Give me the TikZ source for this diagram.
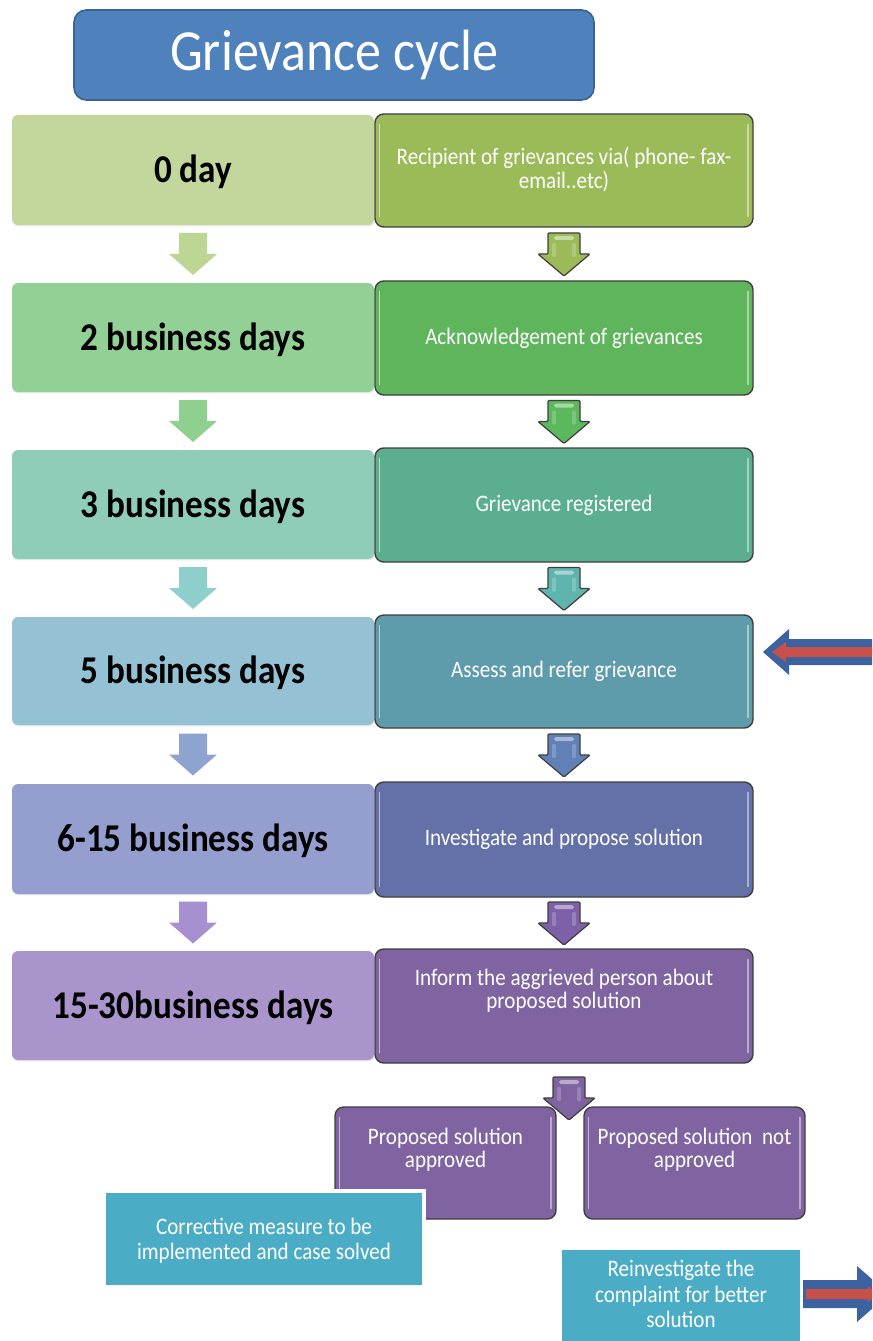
\documentclass[tikz,border=0pt]{standalone}
\usepackage{fontspec}
\setmainfont{Carlito}
\usetikzlibrary{fit,shadows,calc}
\definecolor{titleblue}{HTML}{4F81BD}
\definecolor{titleedge}{HTML}{3A6293}
\definecolor{aL}{HTML}{C3D69B}\definecolor{aR}{HTML}{9BBB59}
\definecolor{bL}{HTML}{93D095}\definecolor{bR}{HTML}{5FB55C}
\definecolor{cL}{HTML}{90CDB8}\definecolor{cR}{HTML}{5BAF8E}
\definecolor{dL}{HTML}{94C1D3}\definecolor{dR}{HTML}{5E9CAB}
\definecolor{eL}{HTML}{949ECF}\definecolor{eR}{HTML}{6470A8}
\definecolor{fL}{HTML}{A994CB}\definecolor{fR}{HTML}{8064A2}
\definecolor{la1}{HTML}{BED693}\definecolor{la2}{HTML}{8FD08F}
\definecolor{la3}{HTML}{8ECFCB}\definecolor{la4}{HTML}{8FA3D1}
\definecolor{la5}{HTML}{A690CF}
\definecolor{ra1}{HTML}{9BBB59}\definecolor{ra2}{HTML}{5CB85C}
\definecolor{ra3}{HTML}{5FB5AE}\definecolor{ra4}{HTML}{6080B6}
\definecolor{ra5}{HTML}{7D60A8}
\definecolor{cyanbox}{HTML}{4BACC6}
\definecolor{edgegray}{HTML}{3F3F3F}
\definecolor{arrblue}{HTML}{3D62A0}
\definecolor{arrred}{HTML}{C8504B}
\newcommand{\tall}[1]{\scalebox{1}[1.12]{#1}}
\newcommand{\lines}[1]{\tall{\begin{tabular}{@{}c@{}}#1\end{tabular}}}
\tikzset{
  glossy/.style={path picture={
    \draw[white,opacity=0.55,line width=1pt,line cap=round]
      ([xshift=2.6pt,yshift=-6pt]path picture bounding box.north west) --
      ([xshift=2.6pt,yshift=6pt]path picture bounding box.south west);
    \draw[white,opacity=0.45,line width=1pt,line cap=round]
      ([xshift=-2.8pt,yshift=-6pt]path picture bounding box.north east) --
      ([xshift=-2.8pt,yshift=6pt]path picture bounding box.south east);
  }},
  lbox/.style={rounded corners=3.5pt,inner sep=0pt,
    drop shadow={opacity=0.18,shadow xshift=0.4pt,shadow yshift=-0.8pt}},
  ltext/.style={font=\fontsize{20}{24}\selectfont\bfseries,text=black,inner sep=0pt},
  rbox/.style={rounded corners=5pt,inner sep=0pt,draw=edgegray,line width=0.8pt,glossy},
  rtext/.style={font=\fontsize{12}{12}\selectfont,text=white,inner sep=0pt},
  ctext/.style={font=\fontsize{12}{13}\selectfont,text=white,inner sep=0pt},
  cbox/.style={fill=cyanbox,draw=white,line width=2.2pt,inner sep=0pt,
    drop shadow={opacity=0.22,shadow xshift=1.2pt,shadow yshift=-1.2pt}},
  larr/.pic={\path[pic actions] (-14,-21) -- (14,-21) -- (14,0) -- (24,0) -- (0,21) -- (-24,0) -- (-14,0) -- cycle;},
  rarr/.pic={\path[pic actions] (-16,-21) -- (16,-21) -- (16,0) -- (26,0) -- (0,22) -- (-26,0) -- (-16,0) -- cycle;
    \fill[white,opacity=0.45,rounded corners=1pt] (-10,-18) rectangle (10,-14);
    \fill[white,opacity=0.2] (-12,-11) rectangle (-8,3);
    \fill[white,opacity=0.2] (8,-11) rectangle (12,3);},
  rarrstyle/.style={draw=edgegray,line width=0.7pt,rounded corners=0.6pt}
}
\begin{document}
\begin{tikzpicture}[x=0.02cm,y=-0.02cm]
\useasboundingbox (0,0) rectangle (872,1341);
\clip (0,0) rectangle (872,1341);

% title
\node[fit={(74,10) (594,100)},inner sep=0pt,rounded corners=7pt,fill=titleblue,
  draw=titleedge,line width=0.9pt] (title) {};
\node[text=white,font=\fontsize{29.6}{34}\selectfont,inner sep=0pt] (titletext) at (title.center) {\tall{Grievance cycle}};

% left boxes
\node[lbox,fill=aL,fit={(12,115) (374,225)}] (L1) {};
\node[lbox,fill=bL,fit={(12,283) (374,392)}] (L2) {};
\node[lbox,fill=cL,fit={(12,450) (374,559)}] (L3) {};
\node[lbox,fill=dL,fit={(12,617) (374,725)}] (L4) {};
\node[lbox,fill=eL,fit={(12,784) (374,894)}] (L5) {};
\node[lbox,fill=fL,fit={(12,951) (374,1060)}] (L6) {};
\node[ltext] (l1) at ($(L1.center)+(0,2)$) {\tall{0 day}};
\node[ltext] (l2) at ($(L2.center)+(0,2)$) {\tall{2 business days}};
\node[ltext] (l3) at ($(L3.center)+(0,2)$) {\tall{3 business days}};
\node[ltext] (l4) at ($(L4.center)+(0,2)$) {\tall{5 business days}};
\node[ltext] (l5) at ($(L5.center)+(0,2)$) {\tall{6-15 business days}};
\node[ltext] (l6) at ($(L6.center)+(0,2)$) {\tall{15-30business days}};

% right boxes
\node[rbox,fill=aR,fit={(375,114) (753,227)}] (R1) {};
\node[rbox,fill=bR,fit={(375,281) (753,395)}] (R2) {};
\node[rbox,fill=cR,fit={(375,448) (753,562)}] (R3) {};
\node[rbox,fill=dR,fit={(375,615) (753,728)}] (R4) {};
\node[rbox,fill=eR,fit={(375,782) (753,897)}] (R5) {};
\node[rbox,fill=fR,fit={(375,949) (753,1063)}] (R6) {};
\node[rtext] (r1) at ($(R1.center)+(0,1)$) {\lines{Recipient of grievances via( phone- fax-\\email..etc)}};
\node[rtext] (r2) at (R2.center) {\tall{Acknowledgement of grievances}};
\node[rtext] (r3) at (R3.center) {\tall{Grievance registered}};
\node[rtext] (r4) at (R4.center) {\tall{Assess and refer grievance}};
\node[rtext] (r5) at (R5.center) {\tall{Investigate and propose solution}};
\node[rtext] (r6) at ($(R6.north)+(0,44)$) {\lines{Inform the aggrieved person about\\proposed solution}};

% arrows between rows
\pic[fill=la1] at ($(L1.south)!0.5!(L2.north)$) {larr};
\pic[fill=la2] at ($(L2.south)!0.5!(L3.north)$) {larr};
\pic[fill=la3] at ($(L3.south)!0.5!(L4.north)$) {larr};
\pic[fill=la4] at ($(L4.south)!0.5!(L5.north)$) {larr};
\pic[fill=la5] at ($(L5.south)!0.5!(L6.north)$) {larr};
\pic[fill=ra1,rarrstyle] at ($(R1.south)!0.5!(R2.north)$) {rarr};
\pic[fill=ra2,rarrstyle] at ($(R2.south)!0.5!(R3.north)$) {rarr};
\pic[fill=ra3,rarrstyle] at ($(R3.south)!0.5!(R4.north)$) {rarr};
\pic[fill=ra4,rarrstyle] at ($(R4.south)!0.5!(R5.north)$) {rarr};
\pic[fill=ra5,rarrstyle] at ($(R5.south)!0.5!(R6.north)$) {rarr};

% incoming arrow at row 4
\coordinate (inTip) at (763,652);
\fill[arrblue] (inTip) -- ++(26,-23) -- ++(0,10) -- ++(100,0) -- ++(0,26) -- ++(-100,0) -- ++(0,10) -- cycle;
\fill[arrred] ($(inTip)+(9,0)$) -- ++(14,-10) -- ++(0,5) -- ++(100,0) -- ++(0,10) -- ++(-100,0) -- ++(0,5) -- cycle;

% bottom boxes
\node[rbox,fill=fR,fit={(335,1107) (556,1219)}] (A) {};
\node[rtext] (tA) at ($(A.north)+(0,45)$) {\lines{Proposed solution\\approved}};
\node[rbox,fill=fR,fit={(584,1107) (805,1219)}] (N) {};
\node[rtext] (tN) at ($(N.north)+(0,45)$) {\lines{Proposed solution~ not\\approved}};
\coordinate (bArr) at (569,1098);
\pic[fill=fR,rarrstyle] at (bArr) {rarr};

\node[cbox,fit={(104,1191) (424,1287)}] (C) {};
\node[ctext] (tC) at ($(C.center)+(0,3)$) {\lines{Corrective measure to be\\implemented and case solved}};
\node[cbox,fit={(560,1248) (802,1350)}] (V) {};
\node[ctext] (tV) at ($(V.north)+(0,51)$) {\lines{Reinvestigate the\\complaint for better\\solution}};

% outgoing arrow
\coordinate (outStart) at (803,1294);
\fill[arrblue] (outStart) -- ++(0,-14) -- ++(54,0) -- ++(0,-14) -- ++(32,28) -- ++(-32,28) -- ++(0,-14) -- ++(-54,0) -- cycle;
\fill[arrred] ($(outStart)+(3,0)$) -- ++(0,-5) -- ++(62,0) -- ++(0,-3) -- ++(10,8) -- ++(-10,8) -- ++(0,-3) -- ++(-62,0) -- cycle;
\end{tikzpicture}
\end{document}
